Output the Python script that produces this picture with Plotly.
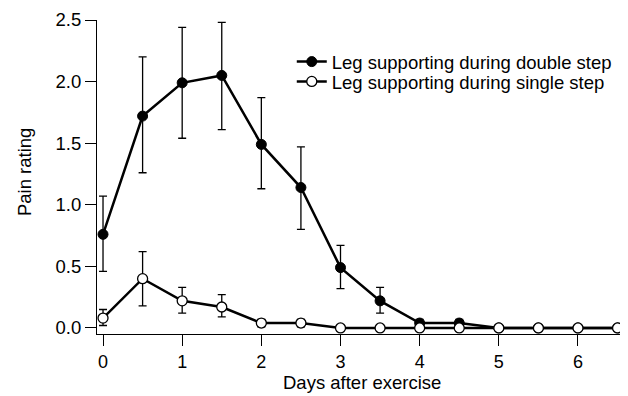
import plotly.graph_objects as go

days = [0, 0.5, 1, 1.5, 2, 2.5, 3, 3.5, 4, 4.5, 5, 5.5, 6, 6.5]

double_mean = [0.76, 1.72, 1.99, 2.05, 1.49, 1.14, 0.49, 0.22, 0.04, 0.04, 0, 0, 0, 0]
double_upper = [1.07, 2.20, 2.44, 2.48, 1.87, 1.47, 0.67, 0.33, 0.07, 0.07, 0, 0, 0, 0]
double_lower = [0.46, 1.26, 1.54, 1.61, 1.13, 0.80, 0.32, 0.12, 0.01, 0.01, 0, 0, 0, 0]

single_mean = [0.08, 0.40, 0.22, 0.17, 0.04, 0.04, 0, 0, 0, 0, 0, 0, 0, 0]
single_upper = [0.15, 0.62, 0.33, 0.27, 0.07, 0.07, 0, 0, 0, 0, 0, 0, 0, 0]
single_lower = [0.02, 0.18, 0.12, 0.09, 0.01, 0.01, 0, 0, 0, 0, 0, 0, 0, 0]

x_ticks = [0, 1, 2, 3, 4, 5, 6]
y_ticks = [0.0, 0.5, 1.0, 1.5, 2.0, 2.5]
y_ticklabels = ["0.0", "0.5", "1.0", "1.5", "2.0", "2.5"]

FONT = "Liberation Sans, Arial, Helvetica, sans-serif"


def err(mean, upper, lower):
    return dict(
        type="data",
        symmetric=False,
        array=[u - m for u, m in zip(upper, mean)],
        arrayminus=[m - l for m, l in zip(mean, lower)],
        color="black",
        thickness=1.3,
        width=4,
    )


fig = go.Figure()
fig.add_trace(go.Scatter(
    x=days, y=double_mean, mode="lines+markers",
    name="Leg supporting during double step",
    line=dict(color="black", width=2.5),
    marker=dict(color="black", size=10, line=dict(color="black", width=1)),
    error_y=err(double_mean, double_upper, double_lower),
    cliponaxis=False, legend="legend",
))
fig.add_trace(go.Scatter(
    x=days, y=single_mean, mode="lines+markers",
    name="Leg supporting during single step",
    line=dict(color="black", width=2.5),
    marker=dict(color="white", size=10, line=dict(color="black", width=1.3)),
    error_y=err(single_mean, single_upper, single_lower),
    cliponaxis=False, legend="legend2",
))

legend_common = dict(
    xanchor="left", yanchor="middle",
    bgcolor="rgba(0,0,0,0)", font=dict(size=18.5, family=FONT),
    itemwidth=30, borderwidth=0,
)

fig.update_layout(
    width=620, height=388,
    margin=dict(l=89, r=6, t=12, b=62),
    paper_bgcolor="white", plot_bgcolor="white",
    font=dict(family=FONT, size=18.5, color="black"),
    showlegend=True,
    legend=dict(x=0.371, y=0.866, **legend_common),
    legend2=dict(x=0.371, y=0.803, **legend_common),
    xaxis=dict(
        range=[-0.076, 6.556], tickvals=x_ticks,
        showline=True, linecolor="black", linewidth=1,
        ticks="outside", ticklen=11, tickcolor="black",
        tickfont=dict(size=18),
        showgrid=False, zeroline=False, automargin=False,
    ),
    yaxis=dict(
        range=[-0.049, 2.5], tickvals=y_ticks, ticktext=y_ticklabels,
        showline=True, linecolor="black", linewidth=1,
        ticks="outside", ticklen=11, tickcolor="black",
        showgrid=False, zeroline=False, automargin=False,
    ),
    annotations=[
        dict(text="Days after exercise", xref="paper", yref="paper",
             x=0.505, y=-0.153, xanchor="center", yanchor="middle",
             showarrow=False, font=dict(size=18.5)),
        dict(text="Pain rating", xref="paper", yref="paper",
             x=-0.137, y=0.516, xanchor="center", yanchor="middle",
             textangle=-90, showarrow=False, font=dict(size=18.5)),
    ],
)

fig.write_html("out.html")
